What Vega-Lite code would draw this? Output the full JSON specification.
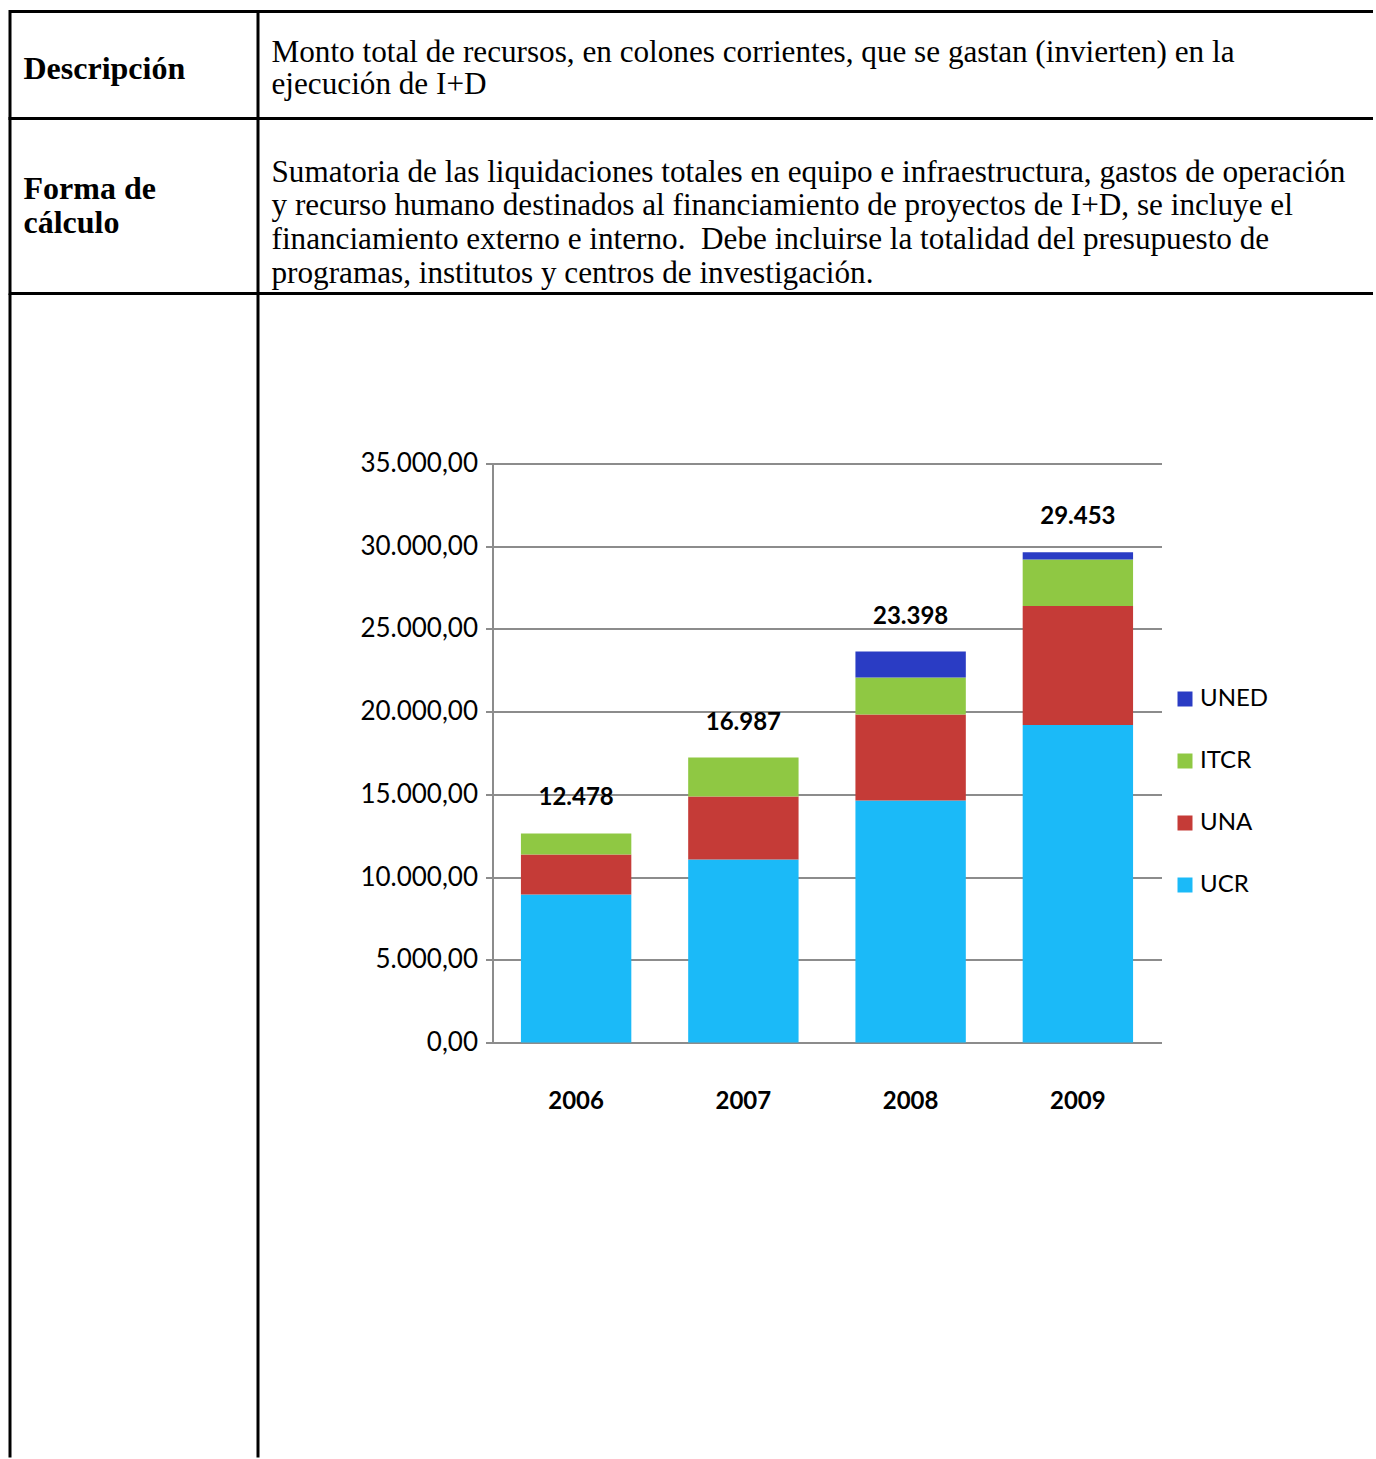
{
  "$schema": "https://vega.github.io/schema/vega-lite/v6.json",
  "background": "white",
  "padding": {"left": 8, "top": 9.5, "right": 0, "bottom": 0},
  "spacing": 248,
  "bounds": "flush",
  "config": {
    "view": {"stroke": null},
    "locale": {"number": {"decimal": ",", "thousands": ".", "grouping": [3], "currency": ["", ""]}}
  },
  "hconcat": [
    {
      "spacing": 0,
      "bounds": "flush",
      "vconcat": [
        {
          "width": 248, "height": 107,
          "view": {"stroke": "black", "strokeWidth": 3},
          "data": {"values": [{"t": "Descripción"}]},
          "mark": {"type": "text", "font": "Liberation Serif", "fontSize": 32, "fontWeight": "bold", "align": "left", "baseline": "middle", "color": "black"},
          "encoding": {"text": {"field": "t", "type": "nominal"}, "x": {"value": 13.5}, "y": {"value": 57}}
        },
        {
          "width": 248, "height": 175,
          "view": {"stroke": "black", "strokeWidth": 3},
          "data": {"values": [{"t": ["Forma de", "cálculo"]}]},
          "mark": {"type": "text", "font": "Liberation Serif", "fontSize": 32, "fontWeight": "bold", "align": "left", "baseline": "middle", "lineHeight": 34, "color": "black"},
          "encoding": {"text": {"field": "t", "type": "nominal"}, "x": {"value": 13.5}, "y": {"value": 70}}
        },
        {
          "width": 248, "height": 1164,
          "view": {"stroke": "black", "strokeWidth": 3, "strokeDash": [1412, 248, 1164, 0]},
          "data": {"values": [{"t": ""}]},
          "mark": {"type": "text", "fontSize": 1},
          "encoding": {"text": {"field": "t", "type": "nominal"}, "y": {"value": 500}}
        }
      ]
    },
    {
      "spacing": 0,
      "bounds": "flush",
      "vconcat": [
        {
          "width": 1115, "height": 107,
          "view": {"stroke": "black", "strokeWidth": 3, "strokeDash": [1115, 107, 1115, 107]},
          "data": {"values": [{"t": ["Monto total de recursos, en colones corrientes, que se gastan (invierten) en la", "ejecución de I+D"]}]},
          "mark": {"type": "text", "font": "Liberation Serif", "fontSize": 31.2, "align": "left", "baseline": "middle", "lineHeight": 32, "color": "black"},
          "encoding": {"text": {"field": "t", "type": "nominal"}, "x": {"value": 13.5}, "y": {"value": 41}}
        },
        {
          "width": 1115, "height": 175,
          "view": {"stroke": "black", "strokeWidth": 3, "strokeDash": [1115, 175, 1115, 175]},
          "data": {"values": [{"t": ["Sumatoria de las liquidaciones totales en equipo e infraestructura, gastos de operación", "y recurso humano destinados al financiamiento de proyectos de I+D, se incluye el", "financiamiento externo e interno.\u00a0 Debe incluirse la totalidad del presupuesto de", "programas, institutos y centros de investigación."]}]},
          "mark": {"type": "text", "font": "Liberation Serif", "fontSize": 31.2, "align": "left", "baseline": "middle", "lineHeight": 33.7, "color": "black"},
          "encoding": {"text": {"field": "t", "type": "nominal"}, "x": {"value": 13.5}, "y": {"value": 54}}
        },
        {
          "spacing": 233.5,
          "bounds": "flush",
          "hconcat": [
            {
              "width": 1, "height": 1,
              "data": {"values": [{"t": ""}]},
              "mark": {"type": "text", "fontSize": 1},
              "encoding": {"text": {"field": "t", "type": "nominal"}, "y": {"value": 0.5}}
            },
            {
              "spacing": 169,
              "bounds": "flush",
              "vconcat": [
                {
                  "width": 1, "height": 1,
                  "data": {"values": [{"t": ""}]},
                  "mark": {"type": "text", "fontSize": 1},
                  "encoding": {"text": {"field": "t", "type": "nominal"}, "y": {"value": 0.5}}
                },
                {
                  "width": 669, "height": 579,
                  "data": {"values": [
                    {"year": "2006", "inst": "UCR", "rank": 1, "value": 8946},
                    {"year": "2006", "inst": "UNA", "rank": 2, "value": 2418},
                    {"year": "2006", "inst": "ITCR", "rank": 3, "value": 1269},
                    {"year": "2007", "inst": "UCR", "rank": 1, "value": 11062},
                    {"year": "2007", "inst": "UNA", "rank": 2, "value": 3808},
                    {"year": "2007", "inst": "ITCR", "rank": 3, "value": 2357},
                    {"year": "2008", "inst": "UCR", "rank": 1, "value": 14629},
                    {"year": "2008", "inst": "UNA", "rank": 2, "value": 5199},
                    {"year": "2008", "inst": "ITCR", "rank": 3, "value": 2237},
                    {"year": "2008", "inst": "UNED", "rank": 4, "value": 1572},
                    {"year": "2009", "inst": "UCR", "rank": 1, "value": 19193},
                    {"year": "2009", "inst": "UNA", "rank": 2, "value": 7187},
                    {"year": "2009", "inst": "ITCR", "rank": 3, "value": 2817},
                    {"year": "2009", "inst": "UNED", "rank": 4, "value": 435}
                  ]},
                  "layer": [
                    {
                      "mark": {"type": "bar"},
                      "encoding": {
                        "x": {
                          "field": "year", "type": "ordinal",
                          "scale": {"paddingInner": 0.34, "paddingOuter": 0.17},
                          "axis": {"title": null, "labelAngle": 0, "labelFont": "Lato", "labelFontSize": 24, "labelFontWeight": "bold", "labelColor": "black", "ticks": false, "domainColor": "#8c8c8c", "domainWidth": 2, "labelPadding": 47, "grid": false}
                        },
                        "y": {
                          "field": "value", "type": "quantitative", "stack": "zero",
                          "scale": {"domain": [0, 35000], "nice": false},
                          "axis": {"title": null, "values": [0, 5000, 10000, 15000, 20000, 25000, 30000, 35000], "format": ",.2f", "labelFont": "Lato", "labelFontSize": 26, "labelColor": "black", "tickSize": 7, "tickColor": "#8c8c8c", "tickWidth": 2, "domainColor": "#8c8c8c", "domainWidth": 2, "grid": true, "gridColor": "#8c8c8c", "gridWidth": 2, "labelPadding": 8}
                        },
                        "color": {
                          "field": "inst", "type": "nominal",
                          "scale": {"domain": ["UNED", "ITCR", "UNA", "UCR"], "range": ["#2a3cc4", "#8fc843", "#c53b37", "#1bbaf8"]},
                          "legend": {"title": null, "orient": "none", "legendX": 1163, "legendY": 675.5, "symbolType": "square", "symbolSize": 225, "symbolStrokeWidth": 0, "labelFont": "Lato", "labelFontSize": 24, "labelColor": "black", "labelOffset": 3, "rowPadding": 38}
                        },
                        "order": {"field": "rank", "type": "quantitative"}
                      }
                    },
                    {
                      "data": {"values": [
                        {"year": "2006", "total": 12478},
                        {"year": "2007", "total": 16987},
                        {"year": "2008", "total": 23398},
                        {"year": "2009", "total": 29453}
                      ]},
                      "mark": {"type": "text", "font": "Lato", "fontSize": 24, "fontWeight": "bold", "color": "black", "align": "center", "baseline": "middle", "dy": -38},
                      "encoding": {
                        "x": {"field": "year", "type": "ordinal"},
                        "y": {"field": "total", "type": "quantitative"},
                        "text": {"field": "total", "type": "quantitative", "format": ",.0f"}
                      }
                    }
                  ]
                }
              ]
            }
          ]
        }
      ]
    }
  ]
}
